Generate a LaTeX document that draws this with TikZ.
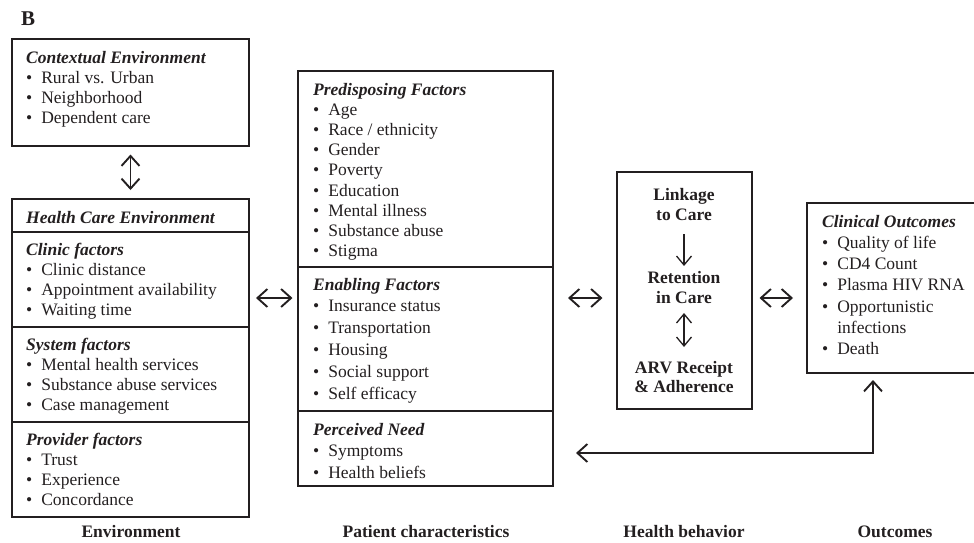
\documentclass[tikz,border=0pt]{standalone}
\usepackage{fontspec}
\setmainfont{Liberation Serif}
\usetikzlibrary{arrows.meta}
\definecolor{ink}{RGB}{35,31,32}
\newcommand\dfs{\fontsize{17.5pt}{20pt}\selectfont}
\newcommand\bul{\textbullet\hspace{9pt}}
\begin{document}
\begin{tikzpicture}[x=1pt,y=-1pt,color=ink,text=ink,
  box/.style={draw=ink,line width=2pt,outer sep=0pt,inner sep=0pt,anchor=north west},
  ttl/.style={anchor=base west,inner sep=0pt,font=\dfs\bfseries\itshape},
  itm/.style={anchor=base west,inner sep=0pt,font=\dfs},
  hbt/.style={anchor=base,inner sep=0pt,font=\dfs\bfseries},
  dar/.style={draw=ink,line width=1.9pt,{Straight Barb[length=10pt,width=18pt]}-{Straight Barb[length=10pt,width=18pt]}},
  ddar/.style={draw=ink,line width=1.3pt,{Straight Barb[length=9pt,width=15pt]}-{Straight Barb[length=9pt,width=15pt]}},
  sar/.style={draw=ink,line width=1.3pt,-{Straight Barb[length=9pt,width=15pt]}}]
\useasboundingbox (0,0) rectangle (974,542);
\clip (0,0) rectangle (974,542);

% boxes
\node[box,minimum width=237pt,minimum height=106.5pt] (ctx) at (12,39) {};
\node[box,minimum width=237pt,minimum height=33pt] (hceh) at (12,199) {};
\node[box,minimum width=237pt,minimum height=95pt] (clin) at (12,232) {};
\node[box,minimum width=237pt,minimum height=95pt] (syst) at (12,327) {};
\node[box,minimum width=237pt,minimum height=95pt] (prov) at (12,422) {};
\node[box,minimum width=255.5pt,minimum height=196pt] (pre) at (297.5,71) {};
\node[box,minimum width=255.5pt,minimum height=144pt] (ena) at (297.5,267) {};
\node[box,minimum width=255.5pt,minimum height=75pt] (per) at (297.5,411) {};
\node[box,minimum width=135pt,minimum height=237pt] (hb) at (616.5,172) {};
\node[box,minimum width=190pt,minimum height=170pt] (out) at (807,203) {};

% panel letter
\node[anchor=base west,inner sep=0pt,font=\fontsize{21pt}{22pt}\selectfont\bfseries] (B) at (21,25) {B};

% contextual environment
\node[ttl] (ctxt) at (26,63) {Contextual Environment};
\foreach \t [count=\i] in {Rural vs. Urban,Neighborhood,Dependent care}
  \node[itm] (ctx-\i) at (26,63+20*\i) {\bul\t};

% health care environment
\node[ttl] (hcet) at (26,223) {Health Care Environment};
\node[ttl] (clint) at (26,255) {Clinic factors};
\foreach \t [count=\i] in {Clinic distance,Appointment availability,Waiting time}
  \node[itm] (clin-\i) at (26,255+20.2*\i) {\bul\t};
\node[ttl] (systt) at (26,350) {System factors};
\foreach \t [count=\i] in {Mental health services,Substance abuse services,Case management}
  \node[itm] (syst-\i) at (26,350+20.3*\i) {\bul\t};
\node[ttl] (provt) at (26,445) {Provider factors};
\foreach \t [count=\i] in {Trust,Experience,Concordance}
  \node[itm] (prov-\i) at (26,445+20.3*\i) {\bul\t};

% patient characteristics
\node[ttl] (pret) at (313,95) {Predisposing Factors};
\foreach \t [count=\i] in {Age,Race / ethnicity,Gender,Poverty,Education,Mental illness,Substance abuse,Stigma}
  \node[itm] (pre-\i) at (313,95+20.2*\i) {\bul\t};
\node[ttl] (enat) at (313,290) {Enabling Factors};
\foreach \t [count=\i] in {Insurance status,Transportation,Housing,Social support,Self efficacy}
  \node[itm] (ena-\i) at (313,290+21.8*\i) {\bul\t};
\node[ttl] (pert) at (313,435) {Perceived Need};
\foreach \t [count=\i] in {Symptoms,Health beliefs}
  \node[itm] (per-\i) at (313,435+21.5*\i) {\bul\t};

% health behavior
\node[hbt] (hb1) at (684,200) {Linkage};
\node[hbt] (hb2) at (684,220) {to Care};
\node[hbt] (hb3) at (684,283) {Retention};
\node[hbt] (hb4) at (684,303) {in Care};
\node[hbt] (hb5) at (684,373) {ARV Receipt};
\node[hbt] (hb6) at (684,392) {\& Adherence};
\coordinate (a1) at (684,234);
\coordinate (a2) at (684,266);
\coordinate (a3) at (684,313);
\coordinate (a4) at (684,347);
\draw[sar] (a1) -- (a2);
\draw[ddar] (a3) -- (a4);

% outcomes
\node[ttl] (outt) at (822,227) {Clinical Outcomes};
\node[itm] (out-1) at (822,248.3) {\bul Quality of life};
\node[itm] (out-2) at (822,269.6) {\bul CD4 Count};
\node[itm] (out-3) at (822,290.9) {\bul Plasma HIV RNA};
\node[itm] (out-4) at (822,312.2) {\bul Opportunistic};
\node[itm] (out-5) at (822,333.5) {\phantom{\textbullet}\hspace{9pt}infections};
\node[itm] (out-6) at (822,354.8) {\bul Death};

% bottom labels
\node[hbt] (l1) at (131,537) {Environment};
\node[hbt] (l2) at (426,537) {Patient characteristics};
\node[hbt] (l3) at (684,537) {Health behavior};
\node[hbt] (l4) at (895,537) {Outcomes};

% connectors
\coordinate (ymid) at (0,298);
\draw[dar,shorten <=9pt,shorten >=9pt] (ctx.south) -- (hceh.north);
\draw[dar,shorten <=7pt,shorten >=5pt] (clin.east |- ymid) -- (ena.west |- ymid);
\draw[dar,shorten <=15pt,shorten >=14pt] (ena.east |- ymid) -- (hb.west |- ymid);
\draw[dar,shorten <=8pt,shorten >=14pt] (hb.east |- ymid) -- (out.west |- ymid);
\coordinate (fbx) at (873,0);
\coordinate (fby) at (0,453);
\draw[dar,shorten <=23pt,shorten >=7pt] (per.east |- fby) -- (fbx |- fby) -- (fbx |- out.south);
\end{tikzpicture}
\end{document}
